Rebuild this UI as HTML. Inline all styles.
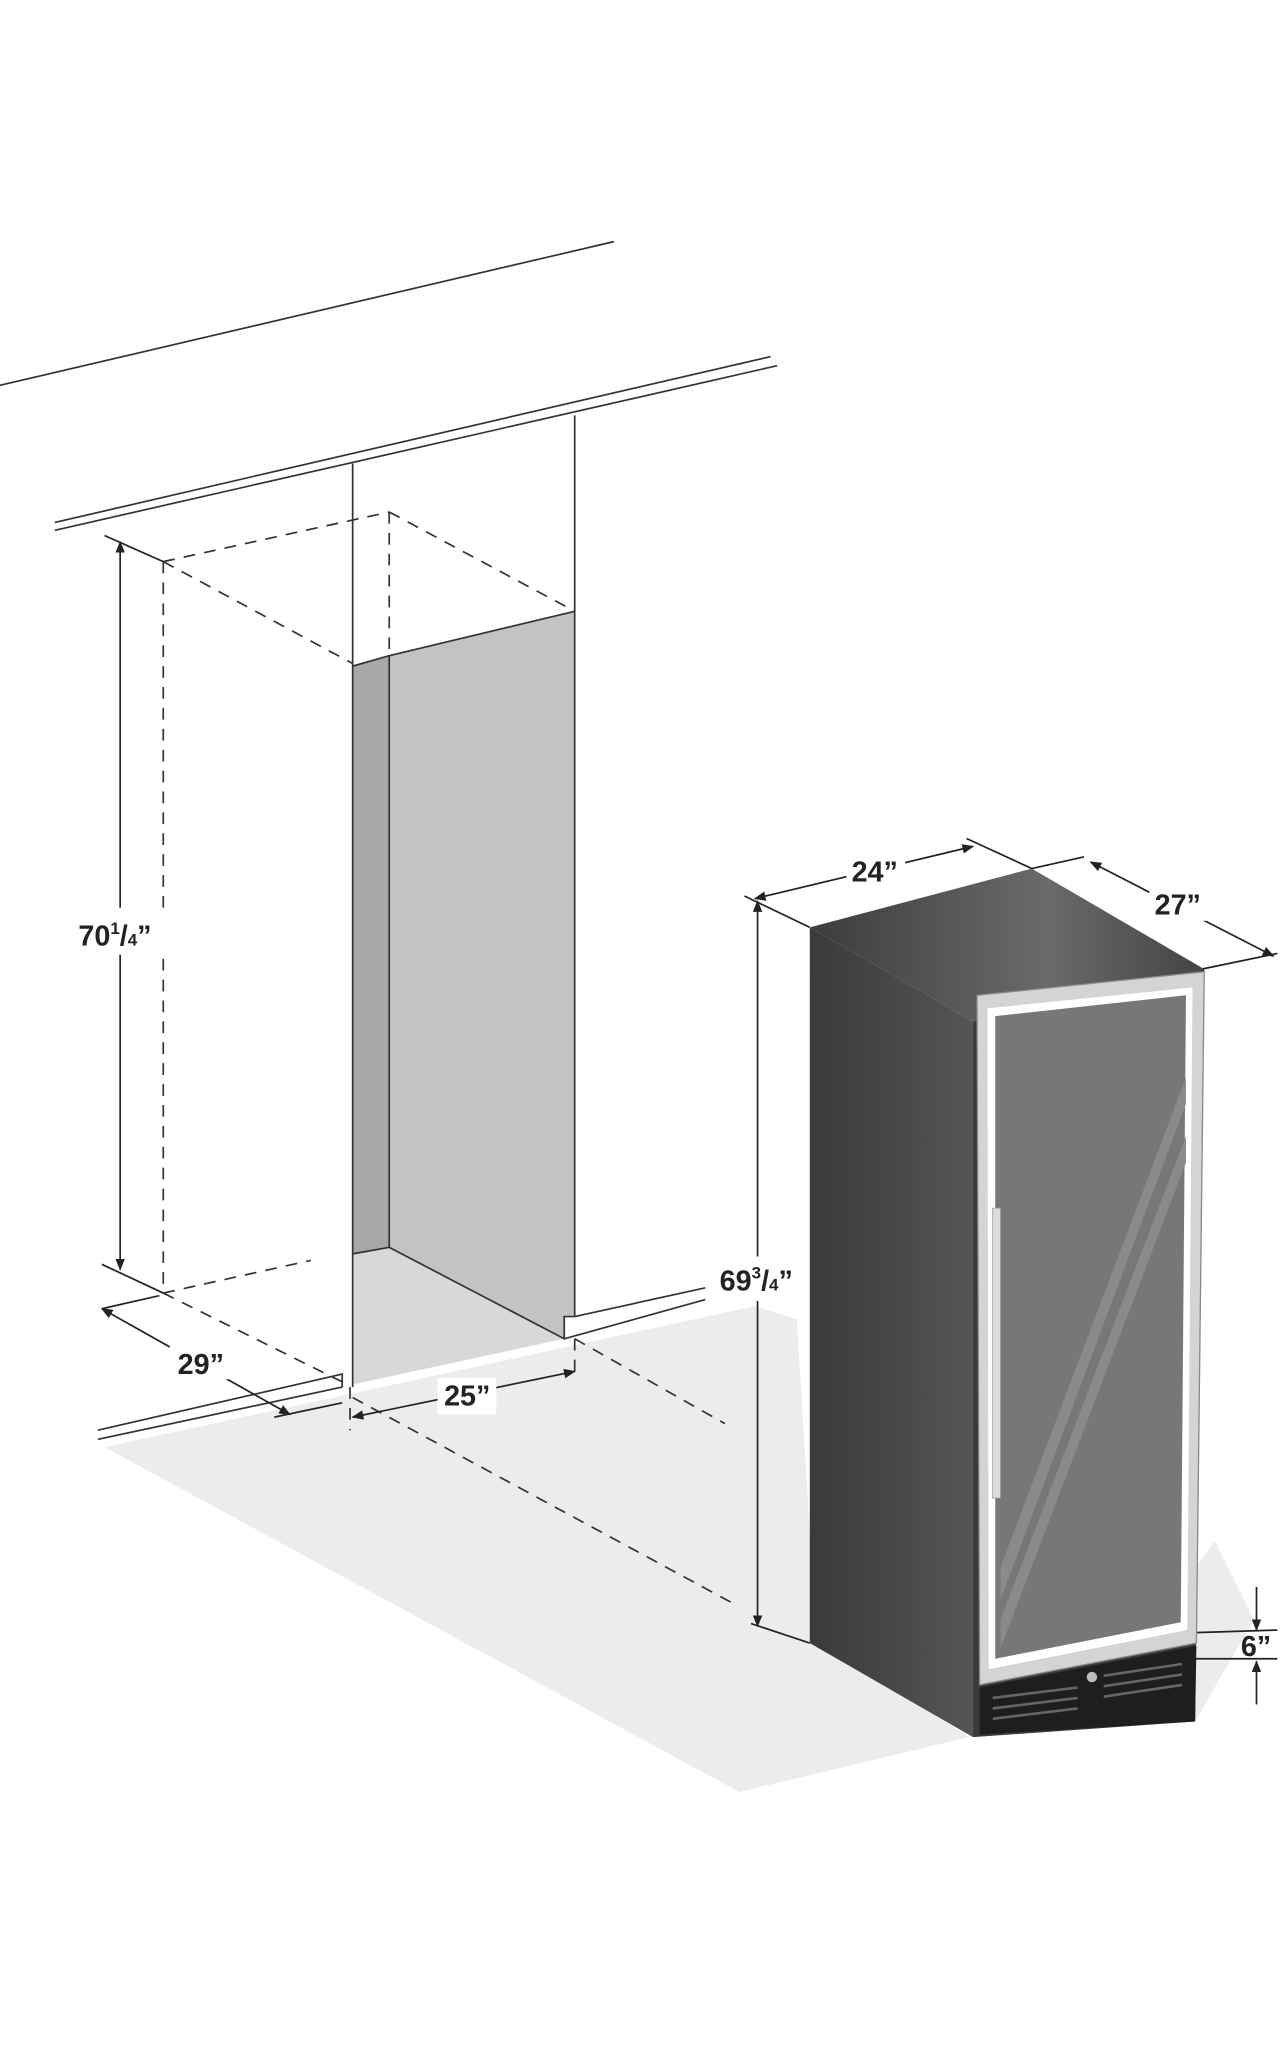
<!DOCTYPE html>
<html><head><meta charset="utf-8"><style>
html,body{margin:0;padding:0;background:#fff;}
svg{display:block;}
text{font-family:"Liberation Sans",sans-serif;font-weight:bold;fill:#222;}
</style></head><body>
<svg width="1280" height="2048" viewBox="0 0 980 1568" xmlns="http://www.w3.org/2000/svg">
<defs>
<marker id="a" viewBox="0 0 10 10" refX="9" refY="5" markerWidth="7" markerHeight="7" orient="auto-start-reverse"><path d="M0,1 L10,5 L0,9 z" fill="#222"/></marker>
<linearGradient id="side" x1="0" x2="1"><stop offset="0" stop-color="#3a3a3a"/><stop offset="1" stop-color="#555"/></linearGradient>
<linearGradient id="top" x1="0" x2="1"><stop offset="0" stop-color="#3c3c3c"/><stop offset="0.6" stop-color="#6a6a6a"/><stop offset="1" stop-color="#444"/></linearGradient>
</defs>
<!-- floor shadow -->
<polygon points="80,1108 578,1000 610,1010 625,1255 742,1330 566,1372" fill="#ececec"/>
<polygon points="745,1330 915,1318 960,1240 930,1180 915,1200" fill="#ececec"/>
<!-- top line -->
<line x1="0" y1="295" x2="470" y2="185" stroke="#333" stroke-width="1.3"/>
<!-- ceiling -->
<line x1="42" y1="400" x2="590" y2="273" stroke="#333" stroke-width="1.3"/>
<line x1="42" y1="406" x2="595" y2="280" stroke="#333" stroke-width="1.3"/>
<!-- alcove -->
<polygon points="298,502 440,468 440,1008 432,1008 432,1025 298,955" fill="#c4c3c4"/>
<polygon points="270,510 298,502 298,955 270,960" fill="#a8a8a8"/>
<polygon points="270,960 298,955 432,1025 270,1060" fill="#d8d8d8"/>
<g stroke="#333" stroke-width="1.3" fill="none">
<line x1="270" y1="355" x2="270" y2="1062"/>
<line x1="440" y1="318" x2="440" y2="1008"/>
<polyline points="270,510 298,502 440,468"/>
<polyline points="298,502 298,955 432,1025 432,1008 440,1008"/>
<line x1="270" y1="960" x2="298" y2="955"/>
<!-- floor lines -->
<polyline points="75,1095 262,1052 262,1062"/>
<line x1="75" y1="1102" x2="262" y2="1062"/>
<line x1="440" y1="1008" x2="540" y2="986"/>
<line x1="432" y1="1025" x2="540" y2="995"/>
</g>
<!-- dashed -->
<g stroke="#333" stroke-width="1.3" fill="none" stroke-dasharray="9,7">
<line x1="125" y1="430" x2="298" y2="392"/>
<line x1="298" y1="392" x2="440" y2="468"/>
<line x1="125" y1="430" x2="270" y2="508"/>
<line x1="125" y1="430" x2="125" y2="990"/>
<line x1="298" y1="392" x2="298" y2="500"/>
<line x1="125" y1="990" x2="238" y2="965"/>
<line x1="125" y1="990" x2="262" y2="1058"/>
<line x1="440" y1="1025" x2="555" y2="1090"/>
<line x1="270" y1="1070" x2="562" y2="1228"/>
<line x1="268" y1="1062" x2="268" y2="1095"/>
<line x1="440" y1="1025" x2="440" y2="1055"/>
</g>
<!-- dimensions -->
<g stroke="#222" stroke-width="1.3" fill="none">
<line x1="92" y1="415" x2="92" y2="972" marker-start="url(#a)" marker-end="url(#a)"/>
<line x1="80" y1="410" x2="125" y2="430"/>
<line x1="78" y1="968" x2="125" y2="990"/>
<line x1="78" y1="1002" x2="122" y2="992"/>
<line x1="78" y1="1002" x2="222" y2="1083" marker-start="url(#a)" marker-end="url(#a)"/>
<line x1="210" y1="1085" x2="262" y2="1074"/>
<line x1="270" y1="1085" x2="440" y2="1050" marker-start="url(#a)" marker-end="url(#a)"/>
<line x1="580" y1="690" x2="580" y2="1245" marker-start="url(#a)" marker-end="url(#a)"/>
<line x1="570" y1="686" x2="620" y2="710"/>
<line x1="575" y1="1243" x2="620" y2="1258"/>
<line x1="578" y1="688" x2="745" y2="648" marker-start="url(#a)" marker-end="url(#a)"/>
<line x1="740" y1="642" x2="790" y2="665"/>
<line x1="835" y1="660" x2="975" y2="732" marker-start="url(#a)" marker-end="url(#a)"/>
<line x1="830" y1="656" x2="790" y2="665"/>
<line x1="920" y1="742" x2="978" y2="730"/>
<line x1="962" y1="1215" x2="962" y2="1248" marker-end="url(#a)"/>
<line x1="962" y1="1305" x2="962" y2="1272" marker-end="url(#a)"/>
<line x1="915" y1="1250" x2="978" y2="1248"/>
<line x1="915" y1="1270" x2="978" y2="1270"/>
</g>
<rect x="48" y="695" width="80" height="36" fill="#fff"/>
<text x="60" y="724" font-size="22">70<tspan font-size="13" dy="-9">1</tspan><tspan dy="9">/</tspan><tspan font-size="13">4</tspan>”</text>
<rect x="130" y="1028" width="45" height="28" fill="#fff"/>
<text x="136" y="1052" font-size="22">29”</text>
<rect x="335" y="1055" width="45" height="28" fill="#fff"/>
<text x="340" y="1076" font-size="22">25”</text>
<rect x="548" y="962" width="70" height="34" fill="#fff"/>
<text x="551" y="988" font-size="22">69<tspan font-size="13" dy="-9">3</tspan><tspan dy="9">/</tspan><tspan font-size="13">4</tspan>”</text>
<rect x="648" y="650" width="45" height="28" fill="#fff"/>
<text x="652" y="675" font-size="22">24”</text>
<rect x="880" y="677" width="45" height="28" fill="#fff"/>
<text x="884" y="700" font-size="22">27”</text>
<text x="950" y="1268" font-size="22">6”</text>
<!-- fridge -->
<polygon points="620,710 790,665 922,742 745,782" fill="url(#top)"/>
<polygon points="620,710 745,782 745,1330 620,1258" fill="url(#side)"/>
<polygon points="745,782 922,742 915,1318 745,1330" fill="#3a3a3a"/>
<polygon points="748,762 922,744 916,1258 750,1290" fill="#d4d4d4" stroke="#888" stroke-width="1"/>
<polygon points="756,772 913,756 909,1248 757,1278" fill="#fff"/>
<polygon points="762,778 908,762 904,1242 762,1270" fill="#777"/>
<polygon points="766,1200 908,825 908,845 766,1225" fill="#8a8a8a"/>
<polygon points="766,1240 908,870 908,890 766,1262" fill="#8a8a8a"/>
<rect x="760" y="925" width="6" height="222" fill="#ddd" stroke="#999" stroke-width="0.6"/>
<polygon points="750,1292 916,1260 915,1318 750,1328" fill="#1e1e1e"/>
<g stroke="#666" stroke-width="2">
<line x1="760" y1="1300" x2="825" y2="1292"/><line x1="760" y1="1308" x2="825" y2="1300"/><line x1="760" y1="1316" x2="825" y2="1308"/>
<line x1="845" y1="1283" x2="905" y2="1274"/><line x1="845" y1="1291" x2="905" y2="1282"/><line x1="845" y1="1299" x2="905" y2="1290"/>
</g>
<circle cx="836" cy="1284" r="4" fill="#bbb"/>
</svg>
</body></html>
